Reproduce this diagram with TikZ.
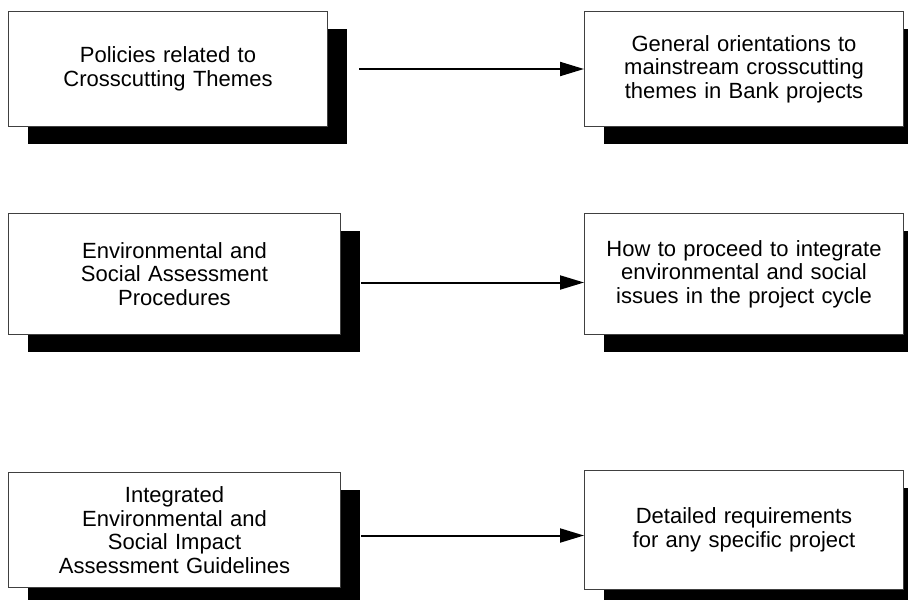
\documentclass[tikz,border=0pt]{standalone}
\usepackage{fontspec}
\setmainfont{Liberation Sans}
\usetikzlibrary{shapes.geometric, arrows.meta, positioning, shadows}
\tikzstyle{block} = [rectangle, draw=black!75, line width=0.5pt, fill=white, text width=150pt, align=center, font=\fontsize{11pt}{11.8pt}\selectfont, drop shadow={shadow xshift=9.5pt, shadow yshift=-8.75pt, fill=black, opacity=1}]
\tikzstyle{arrow} = [line width=1pt, -{Triangle[length=12pt, width=7pt]}]

\begin{document}
\begin{tikzpicture}[x=0.5pt, y=-0.5pt]
	\useasboundingbox (0,0) rectangle (908,599);
	\node (Policies) [block, minimum width=159.5pt, minimum height=57.5pt, anchor=north west] at (8,11) {Policies related to\\Crosscutting Themes};
	\node (Orientations) [block, minimum width=159.5pt, minimum height=57.5pt, right = 128pt of Policies] {General orientations to\\mainstream crosscutting\\themes in Bank projects};
	\node (Procedures) [block, minimum width=166pt, minimum height=60.5pt, below = 43pt of Policies.south west, anchor=north west] {Environmental and\\Social Assessment\\Procedures};
	\node (Proceed) [block, minimum width=159.5pt, minimum height=60.5pt, right = 121.5pt of Procedures] {How to proceed to integrate\\environmental and social\\issues in the project cycle};
	\node (Guidelines) [block, minimum width=166pt, minimum height=57.5pt, below = 68.5pt of Procedures.south west, anchor=north west] {Integrated\\Environmental and\\Social Impact\\Assessment Guidelines};
	\node (Requirements) [block, minimum width=159.5pt, minimum height=59.5pt, right = 121.5pt of Guidelines] {Detailed requirements\\for any specific project};
	\draw [arrow] ([xshift=15.5pt]Policies.east) -- (Orientations.west);
	\draw [arrow] ([shift={(10pt,-4.25pt)}]Procedures.east) -- ([yshift=-4.25pt]Proceed.west);
	\draw [arrow] ([shift={(10pt,-2.75pt)}]Guidelines.east) -- ([yshift=-2.75pt]Requirements.west);
\end{tikzpicture}
\end{document}
